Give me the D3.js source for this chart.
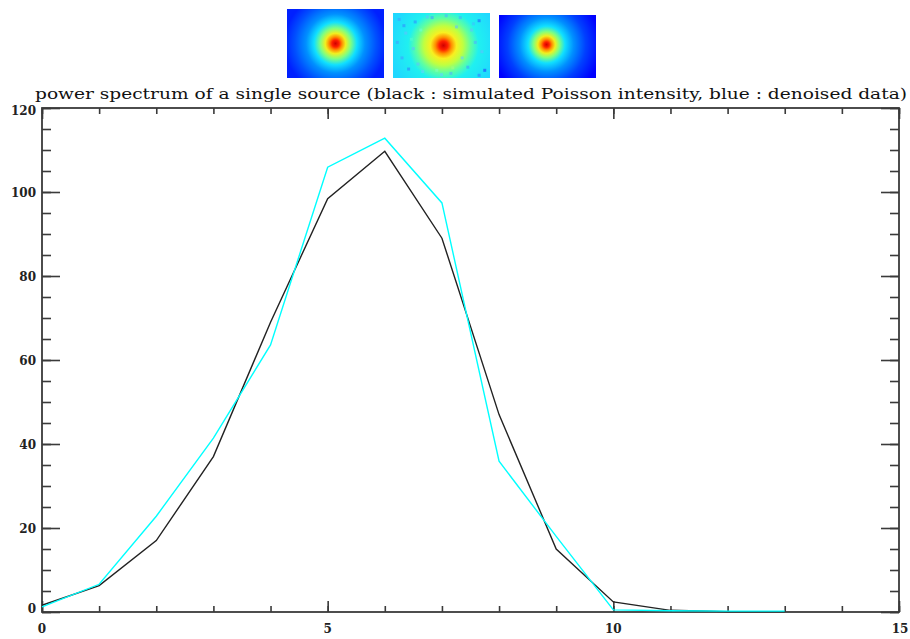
<!DOCTYPE html>
<html>
<head>
<meta charset="utf-8">
<script src="https://cdn.jsdelivr.net/npm/d3@7"></script>
<style>
  html, body { margin: 0; padding: 0; background: #fff; }
  svg { display: block; }
</style>
</head>
<body>
<svg id="chart" width="910" height="639"></svg>
<script>
// ---- data ----
const frequencies = [0, 1, 2, 3, 4, 5, 6, 7, 8, 9, 10, 11, 12, 13];
const simulatedPoisson = [1.6, 6.3, 17.0, 37.0, 69.0, 98.4, 109.7, 89.0, 47.0, 15.0, 2.4, 0.4, 0.1, 0.1];
const denoised = [1.2, 6.6, 22.8, 41.4, 63.6, 105.9, 112.8, 97.4, 35.9, 18.0, 0.5, 0.3, 0.2, 0.2];
const xTickLabels = [0, 5, 10, 15];
const yTickLabels = [0, 20, 40, 60, 80, 100, 120];
const titleText = "power spectrum of a single source (black : simulated Poisson intensity, blue : denoised data)";

// thumbnail images: jet colour stops (offset, colour) for each of the three maps
const thumbNames = ["original", "noisy", "denoised"];
const thumbStops = [
  [[0, "#d00000"], [0.07, "#ff2000"], [0.13, "#ff9000"], [0.2, "#f0f020"], [0.3, "#80ff80"], [0.42, "#10e0ff"], [0.58, "#0090ff"], [0.8, "#0050ff"], [1, "#0020ff"]],
  [[0, "#d00000"], [0.08, "#ff2000"], [0.15, "#ff9000"], [0.24, "#f8f020"], [0.36, "#c0ff40"], [0.5, "#60ffa0"], [0.65, "#20f0f0"], [1, "#20d8ff"]],
  [[0, "#d00000"], [0.05, "#ff2000"], [0.1, "#ff9000"], [0.16, "#f0f020"], [0.24, "#80ff80"], [0.34, "#10e0ff"], [0.5, "#0090ff"], [0.72, "#0040ff"], [1, "#0000ff"]]
];
// noise speckles of the noisy map (fractional positions and jet colours)
const noiseX = [0.05, 0.12, 0.22, 0.9, 0.82, 0.7, 0.08, 0.15, 0.93, 0.78, 0.3, 0.6, 0.96, 0.03, 0.2, 0.86, 0.72, 0.4, 0.25, 0.1, 0.66, 0.9, 0.55, 0.35, 0.45, 0.62, 0.18, 0.84, 0.5, 0.28];
const noiseY = [0.08, 0.3, 0.12, 0.1, 0.25, 0.05, 0.7, 0.88, 0.6, 0.85, 0.92, 0.95, 0.9, 0.45, 0.55, 0.45, 0.7, 0.05, 0.8, 0.18, 0.2, 0.98, 0.02, 0.04, 0.9, 0.86, 0.4, 0.15, 0.97, 0.25];
const noiseC = ["#40a0ff", "#60c0ff", "#3090ff", "#2060ff", "#60c0ff", "#40b0ff", "#40a0ff", "#3080ff", "#60c0ff", "#40a0ff", "#60d0ff", "#50b0ff", "#2040ff", "#40a0ff", "#60c0ff", "#50b0ff", "#60d0ff", "#40a0ff", "#60c0ff", "#3090ff", "#60c0ff", "#3080ff", "#50b0ff", "#60c0ff", "#80ffc0", "#a0ff80", "#50ffd0", "#40c0ff", "#60d0ff", "#70ffd0"];

// ---- layout ----
const svg = d3.select("#chart");
const x = d3.scaleLinear().domain([0, 15]).range([42, 899]);
const y = d3.scaleLinear().domain([0, 120]).range([612, 108]);
const axisColor = "#3a3a3a";

// ---- thumbnails ----
const thumbBoxes = [
  {x: 287, y: 9, w: 97, h: 69, cx: 0.5, cy: 0.5, r: 0.75},
  {x: 393, y: 13, w: 97, h: 65, cx: 0.52, cy: 0.5, r: 0.8},
  {x: 499, y: 15, w: 97, h: 63, cx: 0.49, cy: 0.47, r: 0.8}
];
const defs = svg.append("defs");
thumbNames.forEach((name, i) => {
  const b = thumbBoxes[i];
  const g = defs.append("radialGradient")
    .attr("id", "grad-" + name)
    .attr("gradientUnits", "userSpaceOnUse")
    .attr("cx", b.x + b.w * b.cx).attr("cy", b.y + b.h * b.cy)
    .attr("r", b.w * b.r * 0.7);
  g.selectAll("stop").data(thumbStops[i]).join("stop")
    .attr("offset", d => d[0]).attr("stop-color", d => d[1]);
});
const thumbs = svg.append("g").attr("class", "thumbs");
thumbNames.forEach((name, i) => {
  const b = thumbBoxes[i];
  thumbs.append("rect").attr("x", b.x).attr("y", b.y).attr("width", b.w).attr("height", b.h)
    .attr("fill", "url(#grad-" + name + ")");
});
// speckles on the noisy map
const nb = thumbBoxes[1];
thumbs.selectAll("rect.noise").data(noiseX).join("rect").attr("class", "noise")
  .attr("x", (d) => nb.x + d * (nb.w - 3))
  .attr("y", (d, i) => nb.y + noiseY[i] * (nb.h - 3))
  .attr("width", 3).attr("height", 3)
  .attr("fill", (d, i) => noiseC[i]).attr("opacity", 0.6);

// ---- title ----
svg.append("text")
  .attr("x", 35).attr("y", 99)
  .attr("textLength", 872).attr("lengthAdjust", "spacingAndGlyphs")
  .attr("font-family", "DejaVu Serif, serif")
  .attr("font-size", 14.5)
  .attr("fill", "#111")
  .text(titleText);

// ---- axes (box with ticks on all four sides) ----
const axisG = svg.append("g").attr("class", "axes");
function styleAxis(g) {
  g.select(".domain").remove();
  g.selectAll("line").attr("stroke", axisColor).attr("stroke-width", 1.6);
}
const xMinor = d3.range(0, 16, 1);
const yMinor = d3.range(0, 121, 5);

// bottom minor + major ticks
axisG.append("g").attr("transform", `translate(0,${y(0)})`)
  .call(d3.axisTop(x).tickValues(xMinor).tickSize(6).tickFormat(""))
  .call(styleAxis);
axisG.append("g").attr("transform", `translate(0,${y(0)})`)
  .call(d3.axisTop(x).tickValues(xTickLabels).tickSize(11).tickFormat(""))
  .call(styleAxis);
// top
axisG.append("g").attr("transform", `translate(0,${y(120)})`)
  .call(d3.axisBottom(x).tickValues(xMinor).tickSize(6).tickFormat(""))
  .call(styleAxis);
axisG.append("g").attr("transform", `translate(0,${y(120)})`)
  .call(d3.axisBottom(x).tickValues(xTickLabels).tickSize(11).tickFormat(""))
  .call(styleAxis);
// left
axisG.append("g").attr("transform", `translate(${x(0)},0)`)
  .call(d3.axisRight(y).tickValues(yMinor).tickSize(9).tickFormat(""))
  .call(styleAxis);
axisG.append("g").attr("transform", `translate(${x(0)},0)`)
  .call(d3.axisRight(y).tickValues(yTickLabels).tickSize(18).tickFormat(""))
  .call(styleAxis);
// right
axisG.append("g").attr("transform", `translate(${x(15)},0)`)
  .call(d3.axisLeft(y).tickValues(yMinor).tickSize(9).tickFormat(""))
  .call(styleAxis);
axisG.append("g").attr("transform", `translate(${x(15)},0)`)
  .call(d3.axisLeft(y).tickValues(yTickLabels).tickSize(18).tickFormat(""))
  .call(styleAxis);

// frame
axisG.append("rect")
  .attr("x", x(0)).attr("y", y(120))
  .attr("width", x(15) - x(0)).attr("height", y(0) - y(120))
  .attr("fill", "none").attr("stroke", axisColor).attr("stroke-width", 1.8);

// tick labels
const labelFont = "DejaVu Serif, serif";
axisG.selectAll("text.ylab").data(yTickLabels).join("text").attr("class", "ylab")
  .attr("x", 36).attr("y", d => y(d) + (d === 0 ? 0.5 : d === 120 ? 7 : 4.5))
  .attr("text-anchor", "end")
  .attr("font-family", labelFont).attr("font-size", 12).attr("font-weight", "bold")
  .attr("fill", "#222")
  .text(d => d);
axisG.selectAll("text.xlab").data(xTickLabels).join("text").attr("class", "xlab")
  .attr("x", d => x(d) + (d === 15 ? 1 : 0)).attr("y", 633)
  .attr("text-anchor", "middle")
  .attr("font-family", labelFont).attr("font-size", 12).attr("font-weight", "bold")
  .attr("fill", "#222")
  .text(d => d);

// ---- lines ----
const line = d3.line().x((d, i) => x(frequencies[i])).y(d => y(d));
svg.append("path").datum(simulatedPoisson)
  .attr("d", line).attr("fill", "none")
  .attr("stroke", "#222").attr("stroke-width", 1.4);
svg.append("path").datum(denoised)
  .attr("d", line).attr("fill", "none")
  .attr("stroke", "#00ffff").attr("stroke-width", 1.4);
</script>
</body>
</html>
